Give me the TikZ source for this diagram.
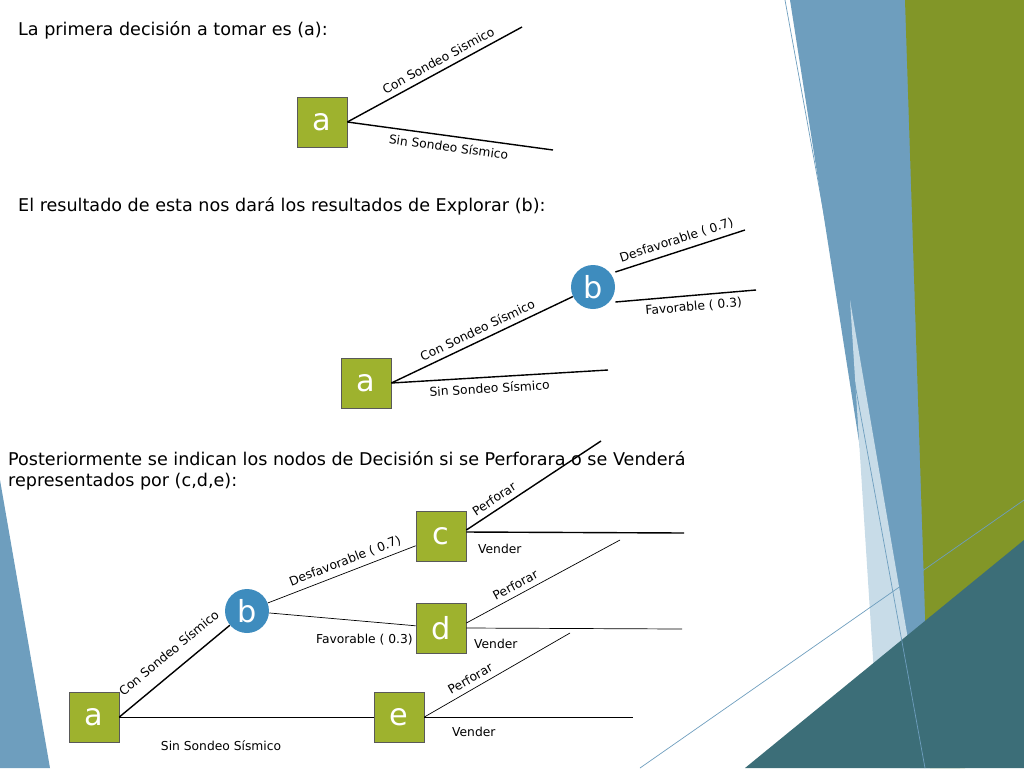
\documentclass[tikz,border=0pt]{standalone}
\usepackage{fontspec}
\setmainfont{DejaVu Sans}
\definecolor{decgreen}{RGB}{158,178,46}
\definecolor{chanceblue}{RGB}{62,140,190}
\definecolor{bgblue}{RGB}{110,158,190}
\definecolor{bgolive}{RGB}{130,150,40}
\definecolor{bgteal}{RGB}{60,110,120}
\definecolor{bglight}{RGB}{200,220,232}
\begin{document}
\begin{tikzpicture}[x=0.02cm,y=-0.02cm,
    dec/.style={rectangle, draw=gray!70!black, fill=decgreen, minimum size=1cm, inner sep=0pt, text=white, font=\LARGE},
    chance/.style={circle, fill=chanceblue, minimum size=0.88cm, inner sep=0pt, text=white, font=\LARGE},
    branch/.style={thick},
    lbl/.style={sloped, font=\scriptsize, inner sep=3pt},
    head/.style={anchor=west, font=\normalsize}
]
\useasboundingbox (0,0) rectangle (1024,768);
% background
\fill[bgblue] (790,0) -- (1000,0) -- (960,768) -- (910,768) -- cycle;
\fill[bglight] (850,300) -- (930,768) -- (880,768) -- cycle;
\fill[bgolive] (905,0) -- (1024,0) -- (1024,560) -- (965,768) -- (930,768) -- cycle;
\fill[bgteal] (745,768) -- (1024,540) -- (1024,768) -- cycle;
\fill[bgblue] (0,480) -- (50,768) -- (0,768) -- cycle;
\draw[bgblue] (785,0) -- (925,768);
\draw[bgblue] (640,768) -- (1024,500);

% Step 1
\node[head] (t1) at (12,30) {La primera decisión a tomar es (a):};
\node[dec] (a1) at (322,122) {a};
\coordinate (a1up) at (522,27);
\coordinate (a1dn) at (553,150);
\draw[branch] (a1.east) -- node[lbl, above, pos=0.55] {Con Sondeo Sismico} (a1up);
\draw[branch] (a1.east) -- node[lbl, below, pos=0.5] {Sin Sondeo Sísmico} (a1dn);

% Step 2
\node[head] (t2) at (12,206) {El resultado de esta nos dará los resultados de Explorar (b):};
\node[dec] (a2) at (366,383) {a};
\node[chance] (b2) at (593,287) {b};
\coordinate (a2dn) at (608,370);
\coordinate (b2up) at (745,230);
\coordinate (b2dn) at (756,290);
\draw[branch] (a2.east) -- node[lbl, above, pos=0.5] {Con Sondeo Sísmico} (b2);
\draw[branch] (a2.east) -- node[lbl, below, pos=0.45] {Sin Sondeo Sísmico} (a2dn);
\draw[branch] (b2.east) ++(0,-15) -- node[lbl, above, pos=0.5] {Desfavorable ( 0.7)} (b2up);
\draw[branch] (b2.east) ++(0,15) -- node[lbl, below, pos=0.55] {Favorable ( 0.3)} (b2dn);

% Step 3
\node[head, align=left, anchor=north west] (t3) at (2,445) {Posteriormente se indican los nodos de Decisión si se Perforara o se Venderá\\representados por (c,d,e):};
\node[dec] (a3) at (94,717) {a};
\node[chance] (b3) at (247,611) {b};
\node[dec] (c3) at (441,536) {c};
\node[dec] (d3) at (441,628) {d};
\node[dec] (e3) at (399,717) {e};
\coordinate (cup) at (601,441);
\coordinate (cdn) at (684,533);
\coordinate (dup) at (620,540);
\coordinate (ddn) at (682,629);
\coordinate (eup) at (570,633);
\coordinate (edn) at (633,717);
\draw[branch] (a3.east) -- node[lbl, above=4pt, pos=0.55] {Con Sondeo Sísmico} (b3);
\draw (a3.east) -- node[font=\scriptsize, below=10pt, pos=0.4] {Sin Sondeo Sísmico} (e3);
\draw (b3) -- node[lbl, above, pos=0.55] {Desfavorable ( 0.7)} (c3);
\draw (b3) -- node[font=\scriptsize, below=4pt, pos=0.65] {Favorable ( 0.3)} (d3);
\draw[branch] (c3.east) ++(0,-6) -- node[lbl, above, pos=0.25] {Perforar} (cup);
\draw[branch] (c3.east) ++(0,-4) -- (cdn);
\node[font=\scriptsize, anchor=west] (cv) at (472,549) {Vender};
\draw (d3.east) ++(0,-5) -- node[lbl, above, pos=0.35] {Perforar} (dup);
\draw (d3.east) -- (ddn);
\node[font=\scriptsize, anchor=west] (dv) at (468,644) {Vender};
\draw (e3.east) -- node[lbl, above, pos=0.35] {Perforar} (eup);
\draw (e3.east) -- (edn);
\node[font=\scriptsize, anchor=west] (ev) at (446,732) {Vender};
\end{tikzpicture}
\end{document}
